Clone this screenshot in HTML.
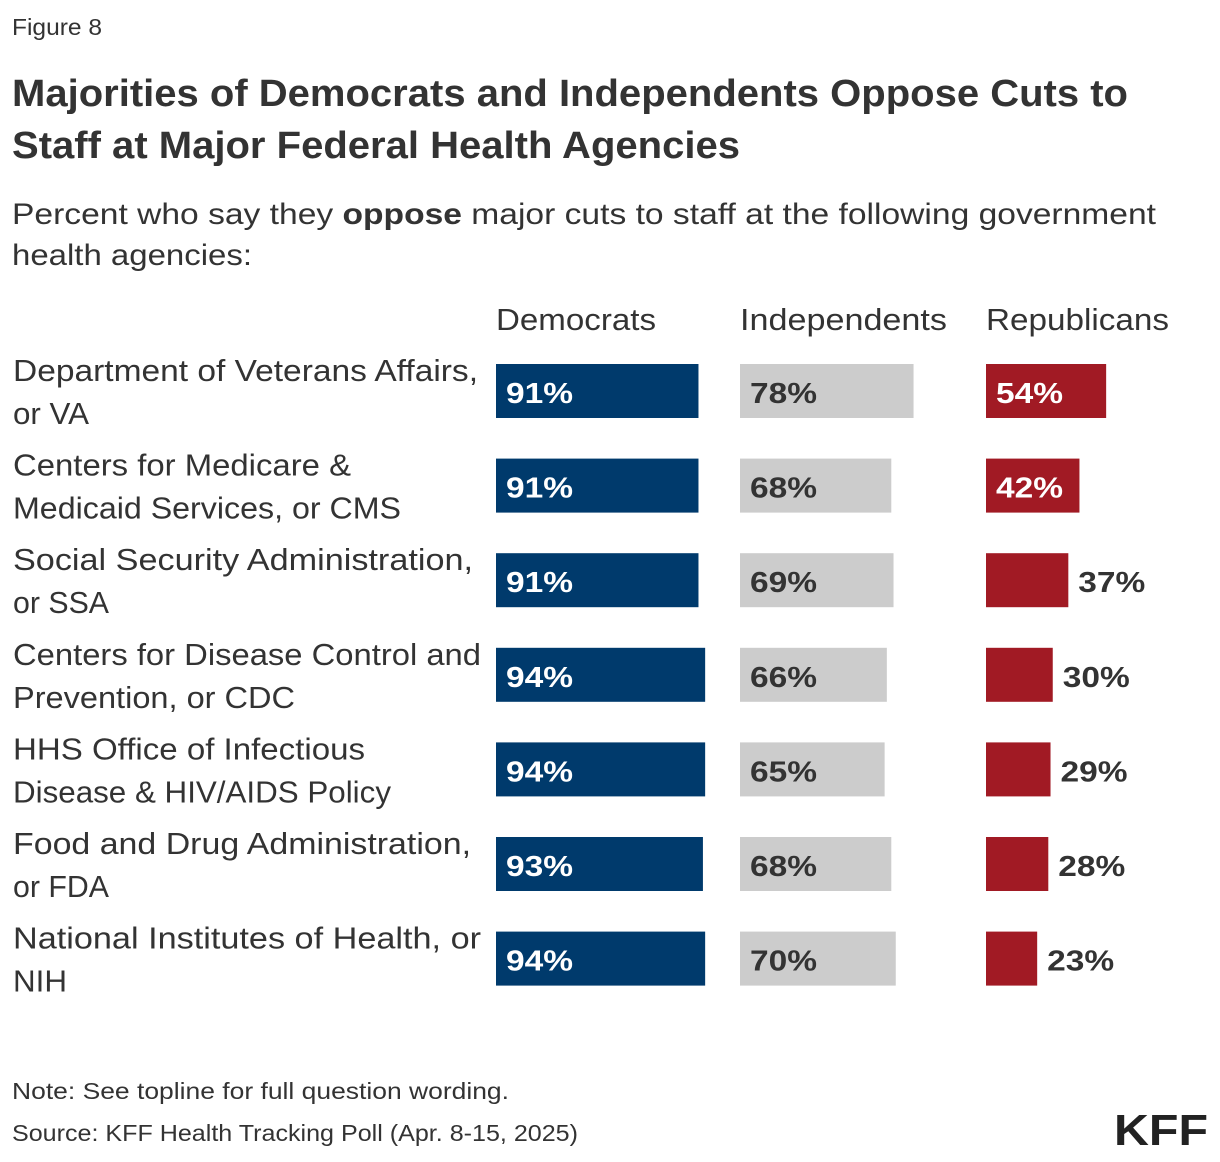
<!DOCTYPE html>
<html><head><meta charset="utf-8"><style>
body{margin:0;background:#fff}
svg{display:block;font-family:"Liberation Sans",sans-serif}
</style></head><body>
<svg id="chart" width="1220" height="1162" viewBox="0 0 1220 1162">
<text x="12" y="35" font-size="23" fill="#333" textLength="90" lengthAdjust="spacingAndGlyphs">Figure 8</text>
<text x="12" y="106" font-size="38" font-weight="bold" fill="#333" textLength="1116" lengthAdjust="spacingAndGlyphs">Majorities of Democrats and Independents Oppose Cuts to</text>
<text x="12" y="158" font-size="38" font-weight="bold" fill="#333" textLength="728" lengthAdjust="spacingAndGlyphs">Staff at Major Federal Health Agencies</text>
<text x="12" y="224" font-size="30" fill="#333" textLength="1144" lengthAdjust="spacingAndGlyphs">Percent who say they <tspan font-weight="bold">oppose</tspan> major cuts to staff at the following government</text>
<text x="12" y="265" font-size="30" fill="#333" textLength="240" lengthAdjust="spacingAndGlyphs">health agencies:</text>
<g id="headers"></g>
<g id="rows"></g>
<text x="12" y="1099" font-size="23" fill="#333" textLength="497" lengthAdjust="spacingAndGlyphs">Note: See topline for full question wording.</text>
<text x="12" y="1141" font-size="23" fill="#333" textLength="566" lengthAdjust="spacingAndGlyphs">Source: KFF Health Tracking Poll (Apr. 8-15, 2025)</text>
<text x="1114" y="1145" font-size="44" font-weight="bold" fill="#222" textLength="94" lengthAdjust="spacingAndGlyphs">KFF</text>
</svg>
<script>
const series = ["Democrats","Independents","Republicans"];
const labels1 = ["Department of Veterans Affairs,","Centers for Medicare &","Social Security Administration,","Centers for Disease Control and","HHS Office of Infectious","Food and Drug Administration,","National Institutes of Health, or"];
const labels2 = ["or VA","Medicaid Services, or CMS","or SSA","Prevention, or CDC","Disease & HIV/AIDS Policy","or FDA","NIH"];
const dem = [91,91,91,94,94,93,94];
const ind = [78,68,69,66,65,68,70];
const rep = [54,42,37,30,29,28,23];
const NS="http://www.w3.org/2000/svg";
const colX=[496,740,986], colors=["#003a6c","#cccccc","#a11a24"], txtIn=["#fff","#333","#fff"];
const xs=v=>v*2.225;
const rowY=i=>364+i*94.6;
function mk(tag,attrs,parent){const e=document.createElementNS(NS,tag);for(const k in attrs)e.setAttribute(k,attrs[k]);parent.appendChild(e);return e;}
const H=document.getElementById('headers'), R=document.getElementById('rows');
const hw=[160,207,183];
series.forEach((s,j)=>{const t=mk('text',{x:colX[j],y:330,'font-size':31,fill:'#333',textLength:hw[j],lengthAdjust:'spacingAndGlyphs'},H);t.textContent=s;

});
const l1w=[465,338,460,468,352,458,468], l2w=[76,388,96,282,378,96,54];
const data=[dem,ind,rep];
labels1.forEach((l,i)=>{const y=rowY(i);
const g=mk('g',{},R);


const a=mk('text',{x:13,y:y+17,'font-size':31,fill:'#333',textLength:l1w[i],lengthAdjust:'spacingAndGlyphs'},g);a.textContent=l;


const b=mk('text',{x:13,y:y+60,'font-size':31,fill:'#333',textLength:l2w[i],lengthAdjust:'spacingAndGlyphs'},g);b.textContent=labels2[i];


data.forEach((arr,j)=>{const v=arr[i],w=xs(v);
const r=mk('rect',{x:colX[j],y:y,width:w,height:54,fill:colors[j]},g);


const inside=w>90;
const t=mk('text',{x:inside?colX[j]+10:colX[j]+w+10,y:y+39,'font-size':29,'font-weight':'bold',fill:inside?txtIn[j]:'#333',textLength:67,lengthAdjust:'spacingAndGlyphs'},g);
t.textContent=v+'%';

});});
</script>
</body></html>
